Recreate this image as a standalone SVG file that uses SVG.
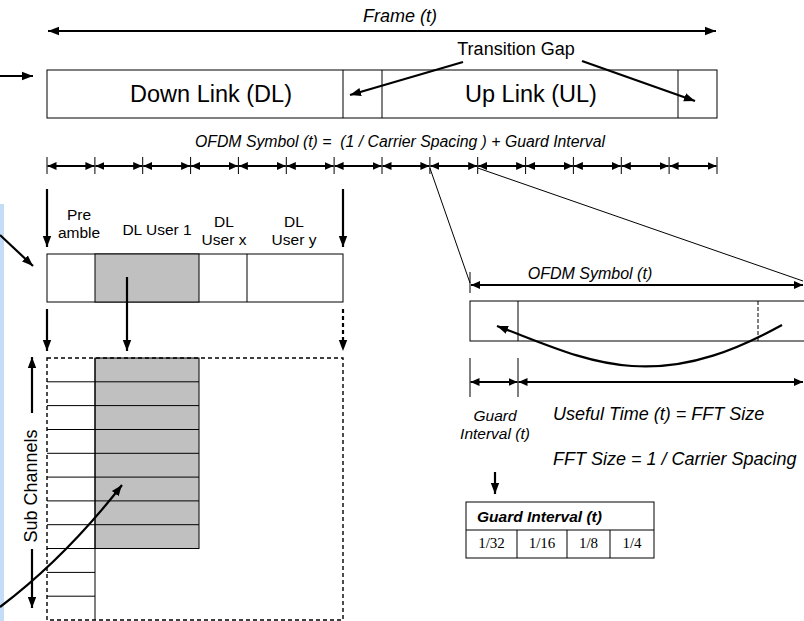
<svg xmlns="http://www.w3.org/2000/svg" width="804" height="621" viewBox="0 0 804 621">
  <style>
    .t { font-family: "Liberation Sans", Arial, sans-serif; fill: #000; }
    .i { font-style: italic; }
    .mid { text-anchor: middle; }
    .box { fill: #fff; stroke: #000; stroke-width: 1; }
    .gray { fill: #c0c0c0; stroke: #000; stroke-width: 1; }
    .ln { stroke: #000; stroke-width: 1; fill: none; }
    .thick { stroke: #000; stroke-width: 2.2; fill: none; }
    .tick { stroke: #000; stroke-width: 1; }
    .dash { stroke-dasharray: 4 3; }
  </style>
  <defs>
    <marker id="ah" markerUnits="userSpaceOnUse" markerWidth="12" markerHeight="10" refX="11" refY="5" orient="auto-start-reverse">
      <path d="M0,0.8 L11,5 L0,9.2 z" fill="#000"/>
    </marker>
    <marker id="ahs" markerUnits="userSpaceOnUse" markerWidth="10" markerHeight="9" refX="9" refY="4.5" orient="auto-start-reverse">
      <path d="M0,0.5 L9,4.5 L0,8.5 z" fill="#000"/>
    </marker>
  </defs>

  <!-- thin page margin at the left -->
  <rect x="0" y="204" width="4" height="417" fill="#c4dcf6"/>

  <!-- frame span -->
  <g id="frame-span">
    <line x1="48" y1="31" x2="716" y2="31" class="thick" marker-start="url(#ah)" marker-end="url(#ah)"/>
    <text x="400" y="22" class="t i mid" font-size="18">Frame (t)</text>
  </g>

  <!-- frame: downlink, gaps, uplink -->
  <g id="frame">
    <rect x="47" y="70" width="670" height="48" class="box"/>
    <line x1="343" y1="70" x2="343" y2="118" class="ln"/>
    <line x1="382" y1="70" x2="382" y2="118" class="ln"/>
    <line x1="678" y1="70" x2="678" y2="118" class="ln"/>
    <text x="211" y="102" class="t mid" font-size="23.5">Down Link (DL)</text>
    <text x="531" y="102" class="t mid" font-size="23.5">Up Link (UL)</text>
  </g>

  <g id="transition-gap">
    <text x="516" y="55" class="t mid" font-size="18">Transition Gap</text>
  </g>

  <!-- OFDM symbol timeline -->
  <g id="symbol-timeline">
    <text x="400" y="147" class="t i mid" font-size="15.8" xml:space="preserve">OFDM Symbol (t) =  (1 / Carrier Spacing ) + Guard Interval</text>
    <g class="tick">
      <line x1="47" y1="157" x2="47" y2="174"/>
      <line x1="94.9" y1="157" x2="94.9" y2="174"/>
      <line x1="142.7" y1="157" x2="142.7" y2="174"/>
      <line x1="190.6" y1="157" x2="190.6" y2="174"/>
      <line x1="238.4" y1="157" x2="238.4" y2="174"/>
      <line x1="286.3" y1="157" x2="286.3" y2="174"/>
      <line x1="334.1" y1="157" x2="334.1" y2="174"/>
      <line x1="382" y1="157" x2="382" y2="174"/>
      <line x1="429.9" y1="157" x2="429.9" y2="174"/>
      <line x1="477.7" y1="157" x2="477.7" y2="174"/>
      <line x1="525.6" y1="157" x2="525.6" y2="174"/>
      <line x1="573.4" y1="157" x2="573.4" y2="174"/>
      <line x1="621.3" y1="157" x2="621.3" y2="174"/>
      <line x1="669.1" y1="157" x2="669.1" y2="174"/>
      <line x1="717" y1="157" x2="717" y2="174"/>
    </g>
    <g class="thick" stroke-width="2" marker-start="url(#ahs)" marker-end="url(#ahs)">
      <line x1="47.5" y1="166" x2="94.4" y2="166"/>
      <line x1="95.4" y1="166" x2="142.2" y2="166"/>
      <line x1="143.2" y1="166" x2="190.1" y2="166"/>
      <line x1="191.1" y1="166" x2="237.9" y2="166"/>
      <line x1="238.9" y1="166" x2="285.8" y2="166"/>
      <line x1="286.8" y1="166" x2="333.6" y2="166"/>
      <line x1="334.6" y1="166" x2="381.5" y2="166"/>
      <line x1="382.5" y1="166" x2="429.4" y2="166"/>
      <line x1="430.4" y1="166" x2="477.2" y2="166"/>
      <line x1="478.2" y1="166" x2="525.1" y2="166"/>
      <line x1="526.1" y1="166" x2="572.9" y2="166"/>
      <line x1="573.9" y1="166" x2="620.8" y2="166"/>
      <line x1="621.8" y1="166" x2="668.6" y2="166"/>
      <line x1="669.6" y1="166" x2="716.5" y2="166"/>
    </g>
  </g>

  <!-- downlink subframe -->
  <g id="dl-subframe">
    <text x="79" y="220" class="t mid" font-size="15.5">Pre</text>
    <text x="79" y="238" class="t mid" font-size="15.5">amble</text>
    <text x="157" y="235" class="t mid" font-size="15.5">DL User 1</text>
    <text x="224" y="227" class="t mid" font-size="15.5">DL</text>
    <text x="224" y="245" class="t mid" font-size="15.5">User x</text>
    <text x="294" y="227" class="t mid" font-size="15.5">DL</text>
    <text x="294" y="245" class="t mid" font-size="15.5">User y</text>
    <rect x="47" y="254" width="296" height="48" class="box"/>
    <rect x="95" y="254" width="104" height="48" class="gray"/>
    <line x1="247" y1="254" x2="247" y2="302" class="ln"/>
  </g>

  <!-- subchannel allocation grid -->
  <g id="subchannel-grid">
    <rect x="95" y="358" width="104" height="190.5" class="gray"/>
    <g class="ln">
      <line x1="95" y1="358" x2="95" y2="620"/>
      <line x1="47" y1="381.8" x2="199" y2="381.8"/>
      <line x1="47" y1="405.6" x2="199" y2="405.6"/>
      <line x1="47" y1="429.5" x2="199" y2="429.5"/>
      <line x1="47" y1="453.3" x2="199" y2="453.3"/>
      <line x1="47" y1="477.1" x2="199" y2="477.1"/>
      <line x1="47" y1="500.9" x2="199" y2="500.9"/>
      <line x1="47" y1="524.7" x2="199" y2="524.7"/>
      <line x1="47" y1="548.5" x2="199" y2="548.5"/>
      <line x1="47" y1="572.4" x2="95" y2="572.4"/>
      <line x1="47" y1="596.2" x2="95" y2="596.2"/>
    </g>
    <rect x="47" y="358" width="296" height="262" fill="none" stroke="#000" stroke-width="1.4" class="dash"/>
  </g>

  <g id="sub-channels-label">
    <text transform="translate(36.5 486) rotate(-90)" class="t mid" font-size="18">Sub Channels</text>
    <line x1="32" y1="413" x2="32" y2="357" class="thick" stroke-width="2" marker-end="url(#ah)"/>
    <line x1="32" y1="549" x2="32" y2="608" class="thick" stroke-width="2" marker-end="url(#ah)"/>
  </g>

  <!-- expanded OFDM symbol -->
  <g id="ofdm-symbol">
    <line x1="470" y1="272" x2="470" y2="293" class="tick"/>
    <line x1="471" y1="285" x2="803" y2="285" class="thick" stroke-width="2" marker-start="url(#ahs)" marker-end="url(#ahs)"/>
    <text x="590" y="279" class="t i mid" font-size="16">OFDM Symbol (t)</text>
    <rect x="470" y="301" width="345" height="40" class="box"/>
    <line x1="518" y1="301" x2="518" y2="341" class="ln"/>
    <line x1="758" y1="301" x2="758" y2="341" class="ln" stroke-width="1.3" stroke-dasharray="4 2"/>
  </g>

  <g id="symbol-durations">
    <line x1="470" y1="358" x2="470" y2="397" class="tick"/>
    <line x1="518" y1="358" x2="518" y2="397" class="tick"/>
    <line x1="470.5" y1="382" x2="517.5" y2="382" class="thick" stroke-width="2" marker-start="url(#ahs)" marker-end="url(#ahs)"/>
    <line x1="518.5" y1="382" x2="803" y2="382" class="thick" stroke-width="2" marker-start="url(#ahs)" marker-end="url(#ahs)"/>
    <text x="495" y="421" class="t i mid" font-size="15.5">Guard</text>
    <text x="495" y="439" class="t i mid" font-size="15.5">Interval (t)</text>
    <text x="553" y="420" class="t i" font-size="18">Useful Time (t) = FFT Size</text>
    <text x="553" y="465" class="t i" font-size="18">FFT Size = 1 / Carrier Spacing</text>
  </g>

  <!-- guard interval values -->
  <g id="guard-table">
    <rect x="466" y="502" width="188" height="56" class="box"/>
    <line x1="466" y1="530" x2="654" y2="530" class="ln"/>
    <line x1="517" y1="530" x2="517" y2="558" class="ln"/>
    <line x1="567" y1="530" x2="567" y2="558" class="ln"/>
    <line x1="610" y1="530" x2="610" y2="558" class="ln"/>
    <text x="477" y="522" class="t i" font-size="15.5" font-weight="bold">Guard Interval (t)</text>
    <g font-family="'Liberation Serif', 'Times New Roman', serif" font-size="15" text-anchor="middle">
      <text x="491.5" y="548">1/32</text>
      <text x="542" y="548">1/16</text>
      <text x="588.5" y="548">1/8</text>
      <text x="632" y="548">1/4</text>
    </g>
  </g>

  <!-- connectors -->
  <g id="connectors">
    <line x1="0" y1="76" x2="33" y2="76" class="thick" marker-end="url(#ah)"/>
    <line x1="463" y1="62" x2="350" y2="95" class="thick" stroke-width="2" marker-end="url(#ah)"/>
    <line x1="582" y1="61" x2="695" y2="101" class="thick" stroke-width="2" marker-end="url(#ah)"/>
    <line x1="0" y1="235" x2="33" y2="266" class="thick" marker-end="url(#ah)"/>
    <line x1="47" y1="189" x2="47" y2="247" class="thick" stroke-width="2" marker-end="url(#ah)"/>
    <line x1="343" y1="189" x2="343" y2="247" class="thick" stroke-width="2" marker-end="url(#ah)"/>
    <line x1="127" y1="277" x2="127" y2="351" class="thick" stroke-width="2" marker-end="url(#ah)"/>
    <line x1="47" y1="309" x2="47" y2="351" class="thick" stroke-width="2" marker-end="url(#ah)"/>
    <line x1="343" y1="309" x2="343" y2="351" class="thick dash" stroke-width="2" marker-end="url(#ah)"/>
    <path d="M0 607 Q65 558 122 485" class="thick" stroke-width="2.4" marker-end="url(#ah)"/>
    <line x1="429.9" y1="168" x2="470" y2="283" class="ln"/>
    <line x1="477.7" y1="168" x2="803" y2="281" class="ln"/>
    <path d="M782 325 C740 348 690 370 632 366 C585 363 545 344 497 326" class="thick" stroke-width="2.2" marker-end="url(#ah)"/>
    <line x1="495" y1="472" x2="495" y2="494" class="thick" stroke-width="2" marker-end="url(#ah)"/>
  </g>
</svg>
